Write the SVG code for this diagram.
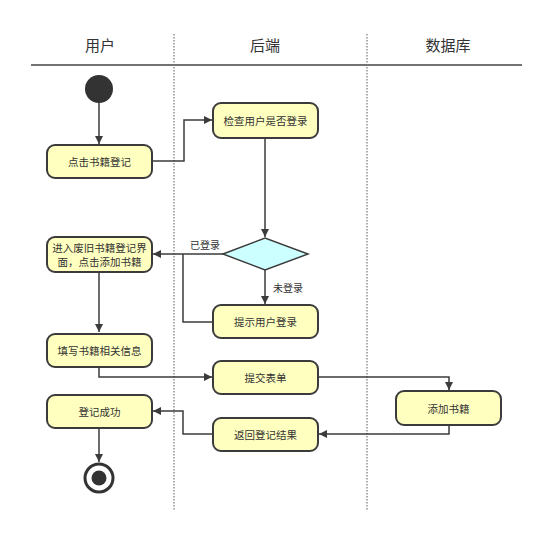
<svg xmlns="http://www.w3.org/2000/svg" width="554" height="533" viewBox="0 0 554 533">
<style>
.hdr{font-family:"Noto Sans CJK SC","Noto Sans",sans-serif;font-size:15px;fill:#333;text-anchor:middle}
.t{font-family:"Noto Sans CJK SC","Noto Sans",sans-serif;font-size:10.5px;fill:#333;text-anchor:middle;dominant-baseline:central}
.lbl{font-family:"Noto Sans CJK SC","Noto Sans",sans-serif;font-size:10px;fill:#333;text-anchor:middle;dominant-baseline:central}
.box{fill:#FFFFC0;stroke:#3b3b3b;stroke-width:2}
.dia{fill:#CCFFFF;stroke:#3b3b3b;stroke-width:1.5}
.c{fill:none;stroke:#3b3b3b;stroke-width:1.5}
.lane{stroke:#777;stroke-width:1.2;stroke-dasharray:1.5 1.5}
</style>
<defs>
<marker id="a" viewBox="0 0 10 10" refX="10" refY="5" markerWidth="8" markerHeight="8" markerUnits="userSpaceOnUse" orient="auto">
<path d="M0,0 L10,5 L0,10 Z" fill="#3b3b3b"/>
</marker>
</defs>
<rect width="554" height="533" fill="#fff"/>
<g id="lanes">
<line x1="31" y1="65" x2="522" y2="65" stroke="#444" stroke-width="1.5"/>
<line class="lane" x1="174" y1="34" x2="174" y2="510"/>
<line class="lane" x1="367" y1="34" x2="367" y2="510"/>
<text class="hdr" x="100" y="51">用户</text>
<text class="hdr" x="265" y="51">后端</text>
<text class="hdr" x="448" y="51">数据库</text>
</g>
<g id="connectors">
<path class="c" d="M99,103 V144" marker-end="url(#a)"/>
<path class="c" d="M152,161 H184 V120 H212" marker-end="url(#a)"/>
<path class="c" d="M265,138 V237" marker-end="url(#a)"/>
<path class="c" d="M223,254 H153" marker-end="url(#a)"/>
<path class="c" d="M265,270 V304" marker-end="url(#a)"/>
<path class="c" d="M213,322 H183 V254"/>
<path class="c" d="M99,272 V332" marker-end="url(#a)"/>
<path class="c" d="M99,367 V377 H212" marker-end="url(#a)"/>
<path class="c" d="M318,377 H449 V390" marker-end="url(#a)"/>
<path class="c" d="M449,425 V434 H319" marker-end="url(#a)"/>
<path class="c" d="M213,434 H183 V411 H153" marker-end="url(#a)"/>
<path class="c" d="M99,428 V462" marker-end="url(#a)"/>
<text class="lbl" x="205" y="244">已登录</text>
<text class="lbl" x="288" y="287">未登录</text>
</g>
<g id="start"><circle cx="99" cy="89" r="14" fill="#333"/></g>
<g id="n1"><rect class="box" x="47" y="145" width="105" height="33" rx="8"/><text class="t" x="99.5" y="161.5">点击书籍登记</text></g>
<g id="n2"><rect class="box" x="213" y="103" width="105" height="35" rx="8"/><text class="t" x="265.5" y="120.5">检查用户是否登录</text></g>
<g id="d1"><polygon class="dia" points="223,254 265,238 308,254 265,270"/></g>
<g id="n3"><rect class="box" x="47" y="237" width="105" height="35" rx="8"/><text class="t" x="99.5" y="247.5">进入废旧书籍登记界</text><text class="t" x="99.5" y="261.5">面，点击添加书籍</text></g>
<g id="n4"><rect class="box" x="213" y="305" width="105" height="33" rx="8"/><text class="t" x="265.5" y="321.5">提示用户登录</text></g>
<g id="n5"><rect class="box" x="47" y="334" width="105" height="33" rx="8"/><text class="t" x="99.5" y="350.5">填写书籍相关信息</text></g>
<g id="n6"><rect class="box" x="213" y="361" width="105" height="33" rx="8"/><text class="t" x="265.5" y="377.5">提交表单</text></g>
<g id="n7"><rect class="box" x="396" y="391" width="105" height="34" rx="8"/><text class="t" x="448.5" y="408">添加书籍</text></g>
<g id="n8"><rect class="box" x="213" y="418" width="105" height="33" rx="8"/><text class="t" x="265.5" y="434.5">返回登记结果</text></g>
<g id="n9"><rect class="box" x="47" y="395" width="105" height="33" rx="8"/><text class="t" x="99.5" y="411.5">登记成功</text></g>
<g id="end"><circle cx="99" cy="478" r="14" fill="#fff" stroke="#333" stroke-width="3"/><circle cx="99" cy="478" r="7.5" fill="#333"/></g>
</svg>
